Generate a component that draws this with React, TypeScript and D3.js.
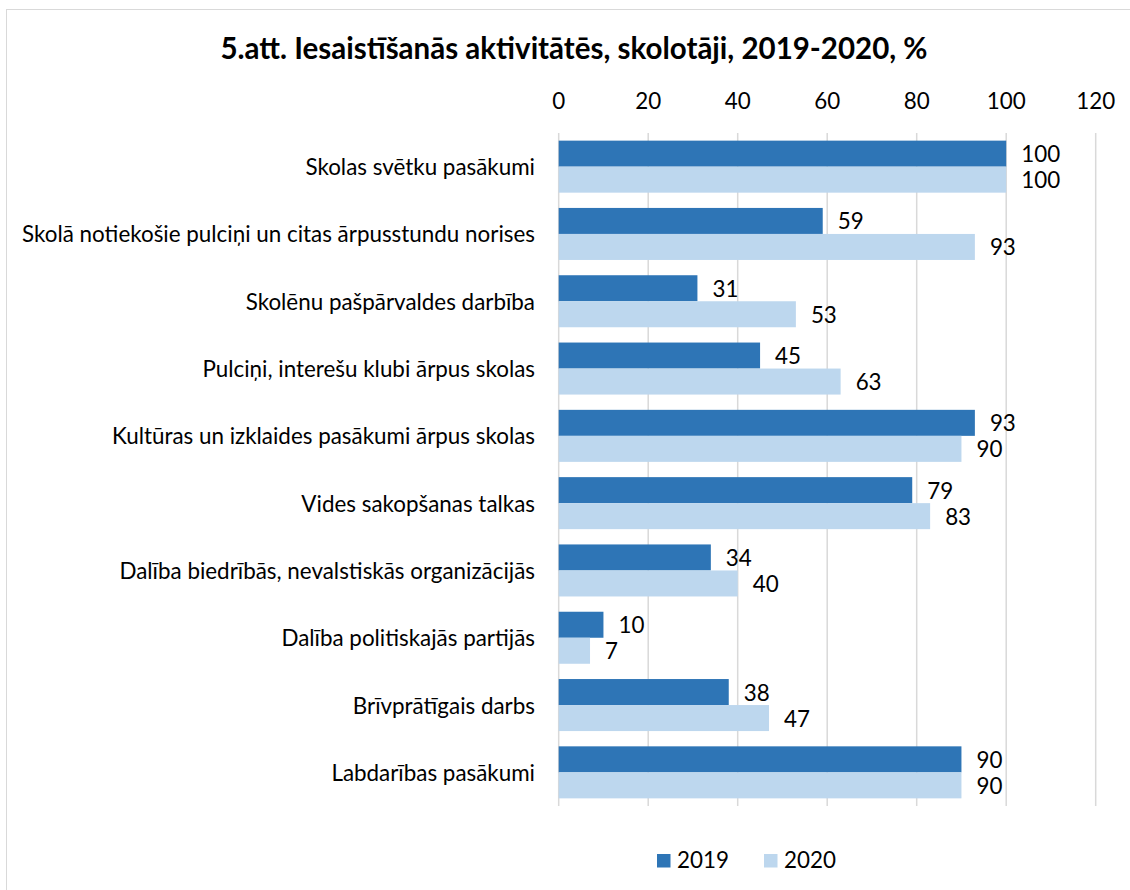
import React from "react";
import * as d3 from "d3";

const title = "5.att. Iesaistīšanās aktivitātēs, skolotāji, 2019-2020, %";
const categories = [
  "Skolas svētku pasākumi",
  "Skolā notiekošie pulciņi un citas ārpusstundu norises",
  "Skolēnu pašpārvaldes darbība",
  "Pulciņi, interešu klubi ārpus skolas",
  "Kultūras un izklaides pasākumi ārpus skolas",
  "Vides sakopšanas talkas",
  "Dalība biedrībās, nevalstiskās organizācijās",
  "Dalība politiskajās partijās",
  "Brīvprātīgais darbs",
  "Labdarības pasākumi",
];
const seriesNames = ["2019", "2020"];
const values2019 = [100, 59, 31, 45, 93, 79, 34, 10, 38, 90];
const values2020 = [100, 93, 53, 63, 90, 83, 40, 7, 47, 90];
const xTicks = [0, 20, 40, 60, 80, 100, 120];
const colors = ["#2E75B6", "#BDD7EE"];

const W = 1130;
const H = 890;
const FONT = "Lato, 'Open Sans', sans-serif";

export default function App() {
  const left = 558.7;
  const right = 1095.7;
  const top = 133;
  const bottom = 806;

  const x = d3.scaleLinear().domain([0, 120]).range([left, right]);
  const y = d3
    .scaleBand<string>()
    .domain(categories)
    .range([top, bottom])
    .paddingInner(0.227)
    .paddingOuter(0.1135);
  const ys = d3
    .scaleBand<string>()
    .domain(seriesNames)
    .range([0, y.bandwidth()]);
  const series = [values2019, values2020];
  const fmt = d3.format(".0f");

  return (
    <svg
      width={W}
      height={H}
      style={{ position: "absolute", left: 0, top: 0, background: "#fff" }}
      fontFamily={FONT}
    >
      <rect x={6.5} y={9.5} width={1140} height={900} fill="#fff" stroke="#D9D9D9" strokeWidth={1} />
      <text
        x={574}
        y={59}
        textAnchor="middle"
        fontSize={29.5}
        fontWeight="bold"
        fill="#000"
      >
        {title}
      </text>
      {xTicks.map((t) => (
        <g key={t}>
          <line
            x1={x(t)}
            x2={x(t)}
            y1={top}
            y2={bottom}
            stroke="#D9D9D9"
            strokeWidth={1.5}
          />
          <text x={x(t)} y={109} textAnchor="middle" fontSize={22.4} fill="#000">
            {t}
          </text>
        </g>
      ))}
      {categories.map((c, i) => (
        <g key={c}>
          <text
            x={535}
            y={(y(c) as number) + y.bandwidth() / 2}
            textAnchor="end"
            dominantBaseline="central"
            fontSize={22.4}
            fill="#000"
          >
            {c}
          </text>
          {series.map((vals, si) => {
            const by = (y(c) as number) + (ys(seriesNames[si]) as number);
            return (
              <g key={si}>
                <rect
                  x={x(0)}
                  y={by}
                  width={x(vals[i]) - x(0)}
                  height={ys.bandwidth()}
                  fill={colors[si]}
                />
                <text
                  x={x(vals[i]) + 15}
                  y={by + ys.bandwidth() / 2}
                  dominantBaseline="central"
                  fontSize={22.4}
                  fill="#000"
                >
                  {fmt(vals[i])}
                </text>
              </g>
            );
          })}
        </g>
      ))}
      {seriesNames.map((s, si) => {
        const lx = si === 0 ? 657 : 764;
        return (
          <g key={s}>
            <rect x={lx} y={854} width={13.5} height={13.5} fill={colors[si]} />
            <text x={lx + 20} y={868} fontSize={22.4} fill="#000">
              {s}
            </text>
          </g>
        );
      })}
    </svg>
  );
}
